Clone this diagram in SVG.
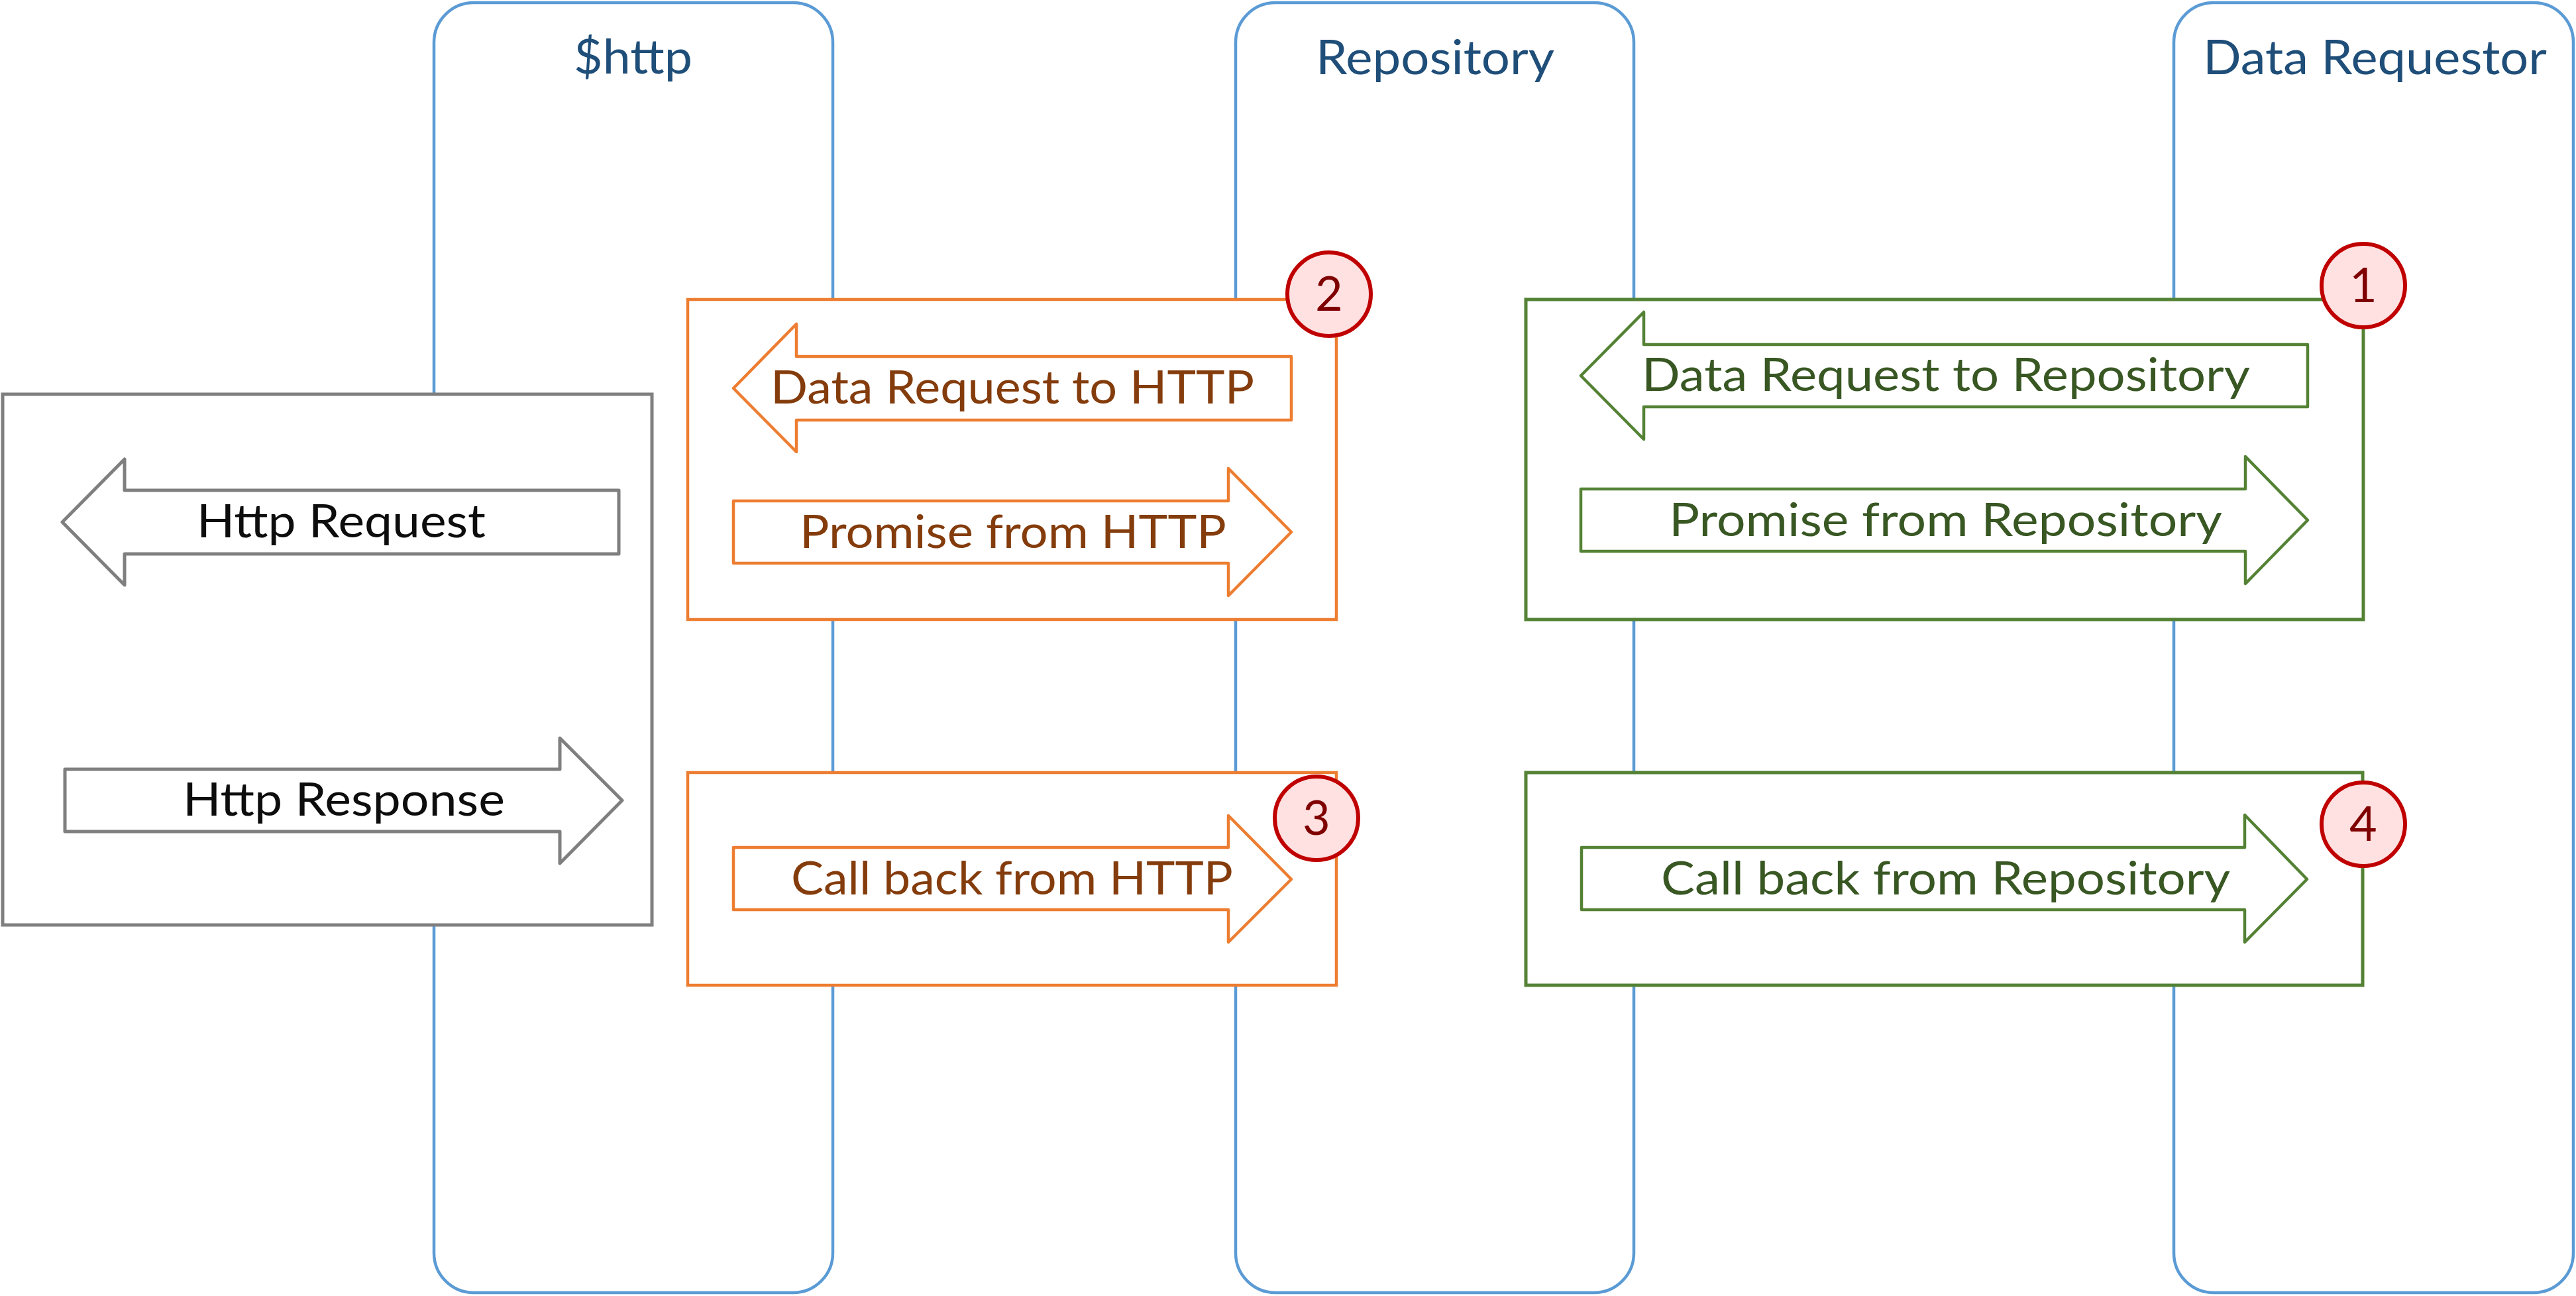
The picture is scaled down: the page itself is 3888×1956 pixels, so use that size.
<svg xmlns="http://www.w3.org/2000/svg" width="3888" height="1956" viewBox="0 0 3888 1956">
<style>
.lane{fill:#FFFFFF;stroke:#5B9BD5;stroke-width:4.5}
.title{font-family:Lato,"Open Sans","Liberation Sans",sans-serif;font-size:72px;fill:#1F4E79}
.gbox{fill:#FFFFFF;stroke:#7F7F7F;stroke-width:5}
.obox{fill:#FFFFFF;stroke:#ED7D31;stroke-width:4.5}
.grbox{fill:#FFFFFF;stroke:#548235;stroke-width:5}
.garr{fill:#FFFFFF;stroke:#7F7F7F;stroke-width:5;stroke-linejoin:round}
.oarr{fill:#FFFFFF;stroke:#ED7D31;stroke-width:4.5;stroke-linejoin:round}
.grarr{fill:#FFFFFF;stroke:#548235;stroke-width:4.5;stroke-linejoin:round}
.lbl{font-family:Lato,"Open Sans","Liberation Sans",sans-serif;font-size:70px}
.lk{fill:#0D0D0D}
.lo{fill:#843C0C}
.lg{fill:#385723}
.badge{fill:#FFE1E1;stroke:#C00000;stroke-width:6}
.num{font-family:Lato,"Open Sans","Liberation Sans",sans-serif;font-size:72px;fill:#7F0000;text-anchor:middle}
</style>
<rect width="3888" height="1956" fill="#FFFFFF"/>
<g id="lane-http">
<rect class="lane" x="655" y="4" width="602" height="1947" rx="60" ry="60"/>
<text class="title" x="866" y="111" textLength="179" lengthAdjust="spacingAndGlyphs">$http</text>
</g>
<g id="lane-repository">
<rect class="lane" x="1865" y="4" width="601" height="1947" rx="60" ry="60"/>
<text class="title" x="1986" y="112" textLength="360" lengthAdjust="spacingAndGlyphs">Repository</text>
</g>
<g id="lane-requestor">
<rect class="lane" x="3281" y="4" width="603" height="1947" rx="60" ry="60"/>
<text class="title" x="3325" y="112" textLength="519" lengthAdjust="spacingAndGlyphs">Data Requestor</text>
</g>
<g id="frame-http-io">
<rect class="gbox" x="4" y="595" width="980" height="801"/>
</g>
<g id="frame-step2">
<rect class="obox" x="1038" y="452" width="979" height="483"/>
</g>
<g id="frame-step3">
<rect class="obox" x="1038" y="1166" width="979" height="321"/>
</g>
<g id="frame-step1">
<rect class="grbox" x="2303" y="452" width="1264" height="483"/>
</g>
<g id="frame-step4">
<rect class="grbox" x="2303" y="1166" width="1263" height="321"/>
</g>
<g id="connectors">
<g id="arrow-http-request">
<path class="garr" d="M94,788 L188,693 L188,740 L934,740 L934,836 L188,836 L188,883 Z"/>
<text class="lbl lk" x="297" y="811" textLength="436" lengthAdjust="spacingAndGlyphs">Http Request</text>
</g>
<g id="arrow-http-response">
<path class="garr" d="M98,1161 L845,1161 L845,1114 L939,1208 L845,1303 L845,1255 L98,1255 Z"/>
<text class="lbl lk" x="276" y="1231" textLength="486" lengthAdjust="spacingAndGlyphs">Http Response</text>
</g>
<g id="arrow-data-request-http">
<path class="oarr" d="M1107,586 L1202,489 L1202,538 L1949,538 L1949,634 L1202,634 L1202,682 Z"/>
<text class="lbl lo" x="1163" y="609" textLength="730" lengthAdjust="spacingAndGlyphs">Data Request to HTTP</text>
</g>
<g id="arrow-promise-http">
<path class="oarr" d="M1107,756 L1854,756 L1854,707 L1949,803 L1854,899 L1854,850 L1107,850 Z"/>
<text class="lbl lo" x="1207" y="827" textLength="644" lengthAdjust="spacingAndGlyphs">Promise from HTTP</text>
</g>
<g id="arrow-callback-http">
<path class="oarr" d="M1107,1279 L1854,1279 L1854,1231 L1949,1327 L1854,1422 L1854,1373 L1107,1373 Z"/>
<text class="lbl lo" x="1194" y="1350" textLength="667" lengthAdjust="spacingAndGlyphs">Call back from HTTP</text>
</g>
<g id="arrow-data-request-repo">
<path class="grarr" d="M2386,567 L2481,471 L2481,520 L3483,520 L3483,614 L2481,614 L2481,663 Z"/>
<text class="lbl lg" x="2478" y="590" textLength="918" lengthAdjust="spacingAndGlyphs">Data Request to Repository</text>
</g>
<g id="arrow-promise-repo">
<path class="grarr" d="M2386,738 L3389,738 L3389,689 L3483,785 L3389,881 L3389,832 L2386,832 Z"/>
<text class="lbl lg" x="2519" y="809" textLength="835" lengthAdjust="spacingAndGlyphs">Promise from Repository</text>
</g>
<g id="arrow-callback-repo">
<path class="grarr" d="M2387,1279 L3388,1279 L3388,1230 L3482,1327 L3388,1422 L3388,1373 L2387,1373 Z"/>
<text class="lbl lg" x="2507" y="1350" textLength="859" lengthAdjust="spacingAndGlyphs">Call back from Repository</text>
</g>
</g>
<g id="badge-1">
<circle class="badge" cx="3567" cy="431" r="63"/>
<text class="num" x="3567" y="456">1</text>
</g>
<g id="badge-2">
<circle class="badge" cx="2006" cy="444" r="63"/>
<text class="num" x="2006" y="469">2</text>
</g>
<g id="badge-3">
<circle class="badge" cx="1987" cy="1235" r="63"/>
<text class="num" x="1987" y="1260">3</text>
</g>
<g id="badge-4">
<circle class="badge" cx="3567" cy="1244" r="63"/>
<text class="num" x="3567" y="1269">4</text>
</g>
</svg>
